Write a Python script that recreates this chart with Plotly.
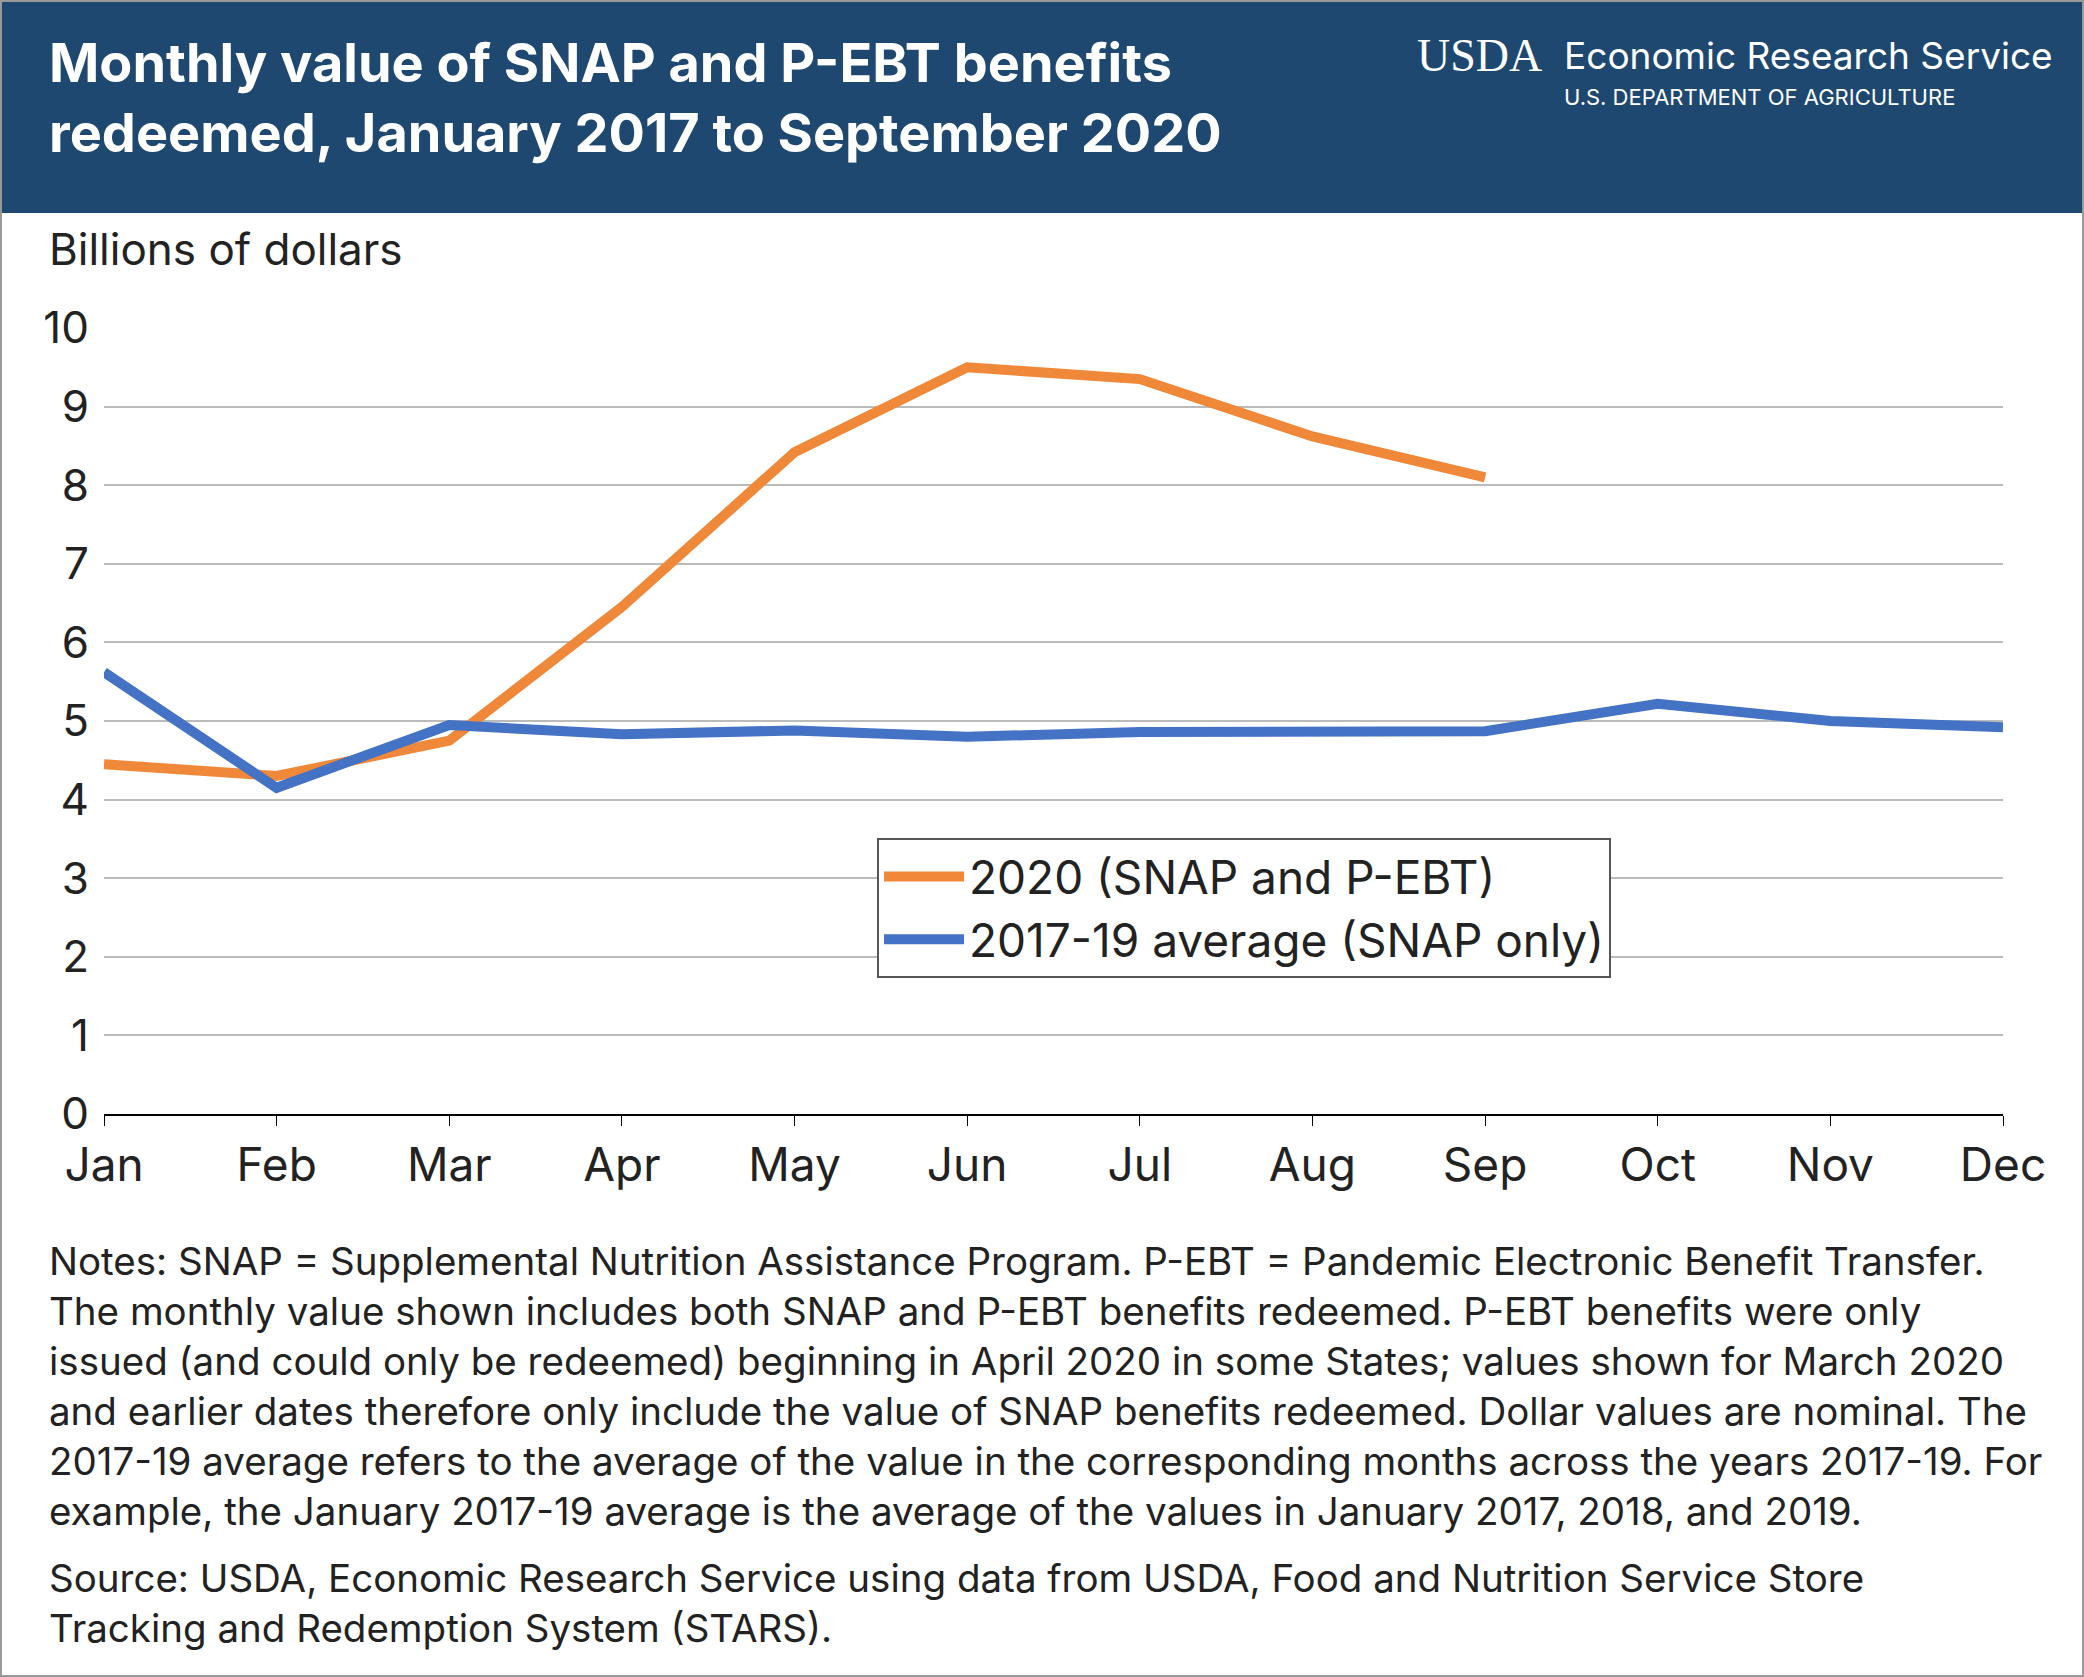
import plotly.graph_objects as go

months = ["Jan", "Feb", "Mar", "Apr", "May", "Jun", "Jul", "Aug", "Sep", "Oct", "Nov", "Dec"]
v2020 = [4.45, 4.3, 4.75, 6.45, 8.42, 9.5, 9.35, 8.62, 8.1]
avg1719 = [5.62, 4.15, 4.95, 4.83, 4.88, 4.8, 4.86, 4.85, 4.87, 5.22, 5.0, 4.92]

notes = [
    "Notes: SNAP = Supplemental Nutrition Assistance Program. P-EBT = Pandemic Electronic Benefit Transfer.",
    "The monthly value shown includes both SNAP and P-EBT benefits redeemed. P-EBT benefits were only",
    "issued (and could only be redeemed) beginning in April 2020 in some States; values shown for March 2020",
    "and earlier dates therefore only include the value of SNAP benefits redeemed. Dollar values are nominal. The",
    "2017-19 average refers to the average of the value in the corresponding months across the years 2017-19. For",
    "example, the January 2017-19 average is the average of the values in January 2017, 2018, and 2019.",
]
source = [
    "Source: USDA, Economic Research Service using data from USDA, Food and Nutrition Service Store",
    "Tracking and Redemption System (STARS).",
]

W, H = 2084, 1677
L, R, T, B = 104, 81, 328, 563
PW, PH = W - L - R, H - T - B
FONT = "Inter"


def px_x(x):
    return (x - L) / PW


def px_y(y):
    return (H - B - y) / PH


fig = go.Figure()
fig.add_trace(go.Scatter(x=months[:len(v2020)], y=v2020, mode="lines", name="2020 (SNAP and P-EBT)",
                         line=dict(color="#f0883a", width=10)))
fig.add_trace(go.Scatter(x=months, y=avg1719, mode="lines", name="2017-19 average (SNAP only)",
                         line=dict(color="#4472c4", width=10)))

# header band and frame
fig.add_shape(type="rect", xref="paper", yref="paper", x0=px_x(0), x1=px_x(W), y0=px_y(213), y1=px_y(0),
              fillcolor="#1e4870", line_width=0, layer="below")
fig.add_shape(type="rect", xref="paper", yref="paper", x0=px_x(1), x1=px_x(W - 1), y0=px_y(H - 1), y1=px_y(1),
              line=dict(color="#999999", width=2))

ann = [
    dict(x=px_x(47), y=px_y(28), text="<b>Monthly value of SNAP and P-EBT benefits<br>redeemed, January 2017 to September 2020</b>",
         font=dict(size=54, color="white", family=FONT), xanchor="left", yanchor="top", align="left"),
    dict(x=px_x(1415), y=px_y(55), text="USDA", font=dict(size=46, color="white", family="Liberation Serif"),
         xanchor="left", yanchor="middle"),
    dict(x=px_x(1562), y=px_y(55), text="Economic Research Service", font=dict(size=37, color="white", family=FONT),
         xanchor="left", yanchor="middle"),
    dict(x=px_x(1562), y=px_y(97), text="U.S. DEPARTMENT OF AGRICULTURE", font=dict(size=22, color="white", family=FONT),
         xanchor="left", yanchor="middle"),
    dict(x=px_x(47), y=px_y(249), text="Billions of dollars", font=dict(size=44, color="#222", family=FONT),
         xanchor="left", yanchor="middle"),
]
for i, line in enumerate(notes):
    ann.append(dict(x=px_x(47), y=px_y(1261 + i * 50), text=line, font=dict(size=38.5, color="#222", family=FONT),
                    xanchor="left", yanchor="middle"))
for i, line in enumerate(source):
    ann.append(dict(x=px_x(47), y=px_y(1578 + i * 50), text=line, font=dict(size=38.5, color="#222", family=FONT),
                    xanchor="left", yanchor="middle"))
for a in ann:
    a.update(xref="paper", yref="paper", showarrow=False)

fig.update_layout(
    width=W, height=H, margin=dict(l=L, r=R, t=T, b=B),
    plot_bgcolor="white", paper_bgcolor="white",
    annotations=ann,
    font=dict(family=FONT, size=44, color="#222"),
    legend=dict(x=px_x(877), y=px_y(838), xanchor="left", yanchor="top", bordercolor="#555", borderwidth=2,
                bgcolor="white", font=dict(size=46), itemwidth=80, tracegroupgap=0),
    xaxis=dict(range=[0, 11], showgrid=False, showline=True, linecolor="black", linewidth=2,
               ticks="outside", ticklen=10, tickcolor="black", tickfont=dict(size=46)),
    yaxis=dict(range=[0, 10], dtick=1, showgrid=True, gridcolor="#bbbbbb", gridwidth=1.5,
               zeroline=False, ticks="", tickfont=dict(size=44), ticklabelstandoff=14),
)
fig.write_html("out.html", config={"displayModeBar": False},
               post_script="document.body.style.margin='0';")
